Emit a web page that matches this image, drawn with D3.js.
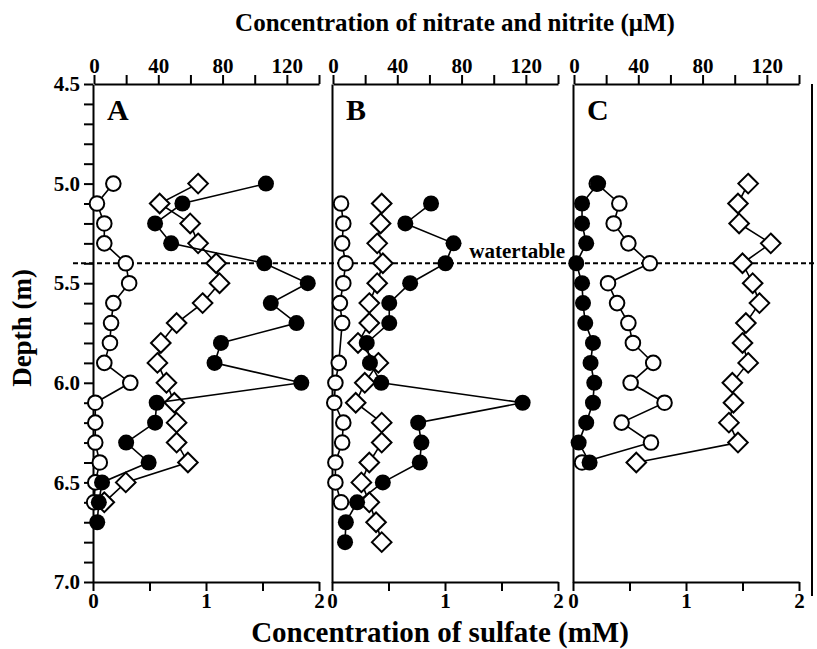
<!DOCTYPE html>
<html>
<head>
<meta charset="utf-8">
<style>
  body { margin: 0; background: #fff; }
  svg { display: block; }
  text { font-family: "Liberation Serif", "Times New Roman", serif; font-weight: bold; fill: #000; }
</style>
</head>
<body>
<div id="chart"></div>
<script src="https://cdnjs.cloudflare.com/ajax/libs/d3/7.8.5/d3.min.js"></script>
<script>
  // Depths (m) for each panel
  const depthA = [5.0, 5.1, 5.2, 5.3, 5.4, 5.5, 5.6, 5.7, 5.8, 5.9, 6.0, 6.1, 6.2, 6.3, 6.4, 6.5, 6.6, 6.7];
  const depthB = [5.1, 5.2, 5.3, 5.4, 5.5, 5.6, 5.7, 5.8, 5.9, 6.0, 6.1, 6.2, 6.3, 6.4, 6.5, 6.6, 6.7, 6.8];
  const depthC = [5.0, 5.1, 5.2, 5.3, 5.4, 5.5, 5.6, 5.7, 5.8, 5.9, 6.0, 6.1, 6.2, 6.3, 6.4];

  // filled circles: nitrate + nitrite (uM, top axis)
  const nitrateA = [107, 55, 38, 48, 106, 133, 110, 126, 79, 75, 129, 39, 38, 20, 34, 5, 3, 2];
  const nitrateB = [61, 45, 75, 70, 48, 35, 35, 21, 23, 30, 118, 53, 55, 54, 31, 15, 8, 7.5];
  const nitrateC = [15, 5, 5, 7.6, 1.4, 5, 5.6, 7, 11.8, 10.3, 12.6, 11.8, 7.6, 2.9, 9.7];

  // open circles (mM, bottom axis)
  const openA = [0.18, 0.035, 0.10, 0.10, 0.29, 0.32, 0.18, 0.16, 0.15, 0.10, 0.33, 0.02, 0.02, 0.02, 0.06, 0.02, 0.01, null];
  const openB = [0.08, 0.10, 0.09, 0.12, 0.10, 0.07, 0.09, null, 0.06, 0.03, 0.02, 0.10, 0.09, 0.03, 0.03, 0.08, null, null];
  const openC = [0.21, 0.41, 0.36, 0.49, 0.68, 0.31, 0.39, 0.49, 0.53, 0.71, 0.51, 0.81, 0.43, 0.69, 0.08];

  // open diamonds: sulfate (mM, bottom axis)
  const sulfateA = [0.93, 0.59, 0.86, 0.93, 1.09, 1.12, 0.97, 0.74, 0.60, 0.57, 0.65, 0.72, 0.74, 0.74, 0.84, 0.29, 0.10, null];
  const sulfateB = [0.44, 0.43, 0.40, 0.45, 0.40, 0.33, 0.33, 0.23, 0.41, 0.29, 0.21, 0.44, 0.44, 0.33, 0.26, 0.33, 0.39, 0.44];
  const sulfateC = [1.55, 1.46, 1.47, 1.75, 1.50, 1.59, 1.65, 1.53, 1.50, 1.55, 1.41, 1.42, 1.38, 1.46, 0.56];

  const panelNames = ["A", "B", "C"];
  const watertable = 5.4;

  const topTicks = [0, 20, 40, 60, 80, 100, 120, 140];
  const topLabels = [0, 40, 80, 120];
  const bottomTicks = [0, 0.5, 1, 1.5, 2];
  const bottomLabels = [0, 1, 2];
  const depthTicks = d3.range(45, 71).map(d => d / 10);

  const panels = [
    {name: panelNames[0], depth: depthA, nitrate: nitrateA, open: openA, sulfate: sulfateA},
    {name: panelNames[1], depth: depthB, nitrate: nitrateB, open: openB, sulfate: sulfateB},
    {name: panelNames[2], depth: depthC, nitrate: nitrateC, open: openC, sulfate: sulfateC}
  ];

  const width = 817, height = 649;
  const plotTop = 84, plotBottom = 582;
  const panelLeft = [93, 332, 573];
  const panelWidth = 226;

  const svg = d3.select("#chart").append("svg")
    .attr("width", width)
    .attr("height", height);

  const y = d3.scaleLinear().domain([4.5, 7.0]).range([plotTop, plotBottom]);

  // watertable
  svg.append("line")
    .attr("x1", 73).attr("x2", width)
    .attr("y1", y(watertable)).attr("y2", y(watertable))
    .attr("stroke", "#000").attr("stroke-width", 2)
    .attr("stroke-dasharray", "5,3");

  svg.append("text")
    .attr("x", 565).attr("y", y(watertable) - 5)
    .attr("text-anchor", "end")
    .attr("font-size", 21)
    .text("watertable");

  function styleAxis(g) {
    g.attr("font-size", 21);
    g.selectAll("path, line").attr("stroke", "#000").attr("stroke-width", 2);
    g.selectAll("text").attr("font-size", 21).attr("fill", "#000")
      .style("font-family", '"Liberation Serif", "Times New Roman", serif')
      .style("font-weight", "bold");
  }

  panels.forEach((p, i) => {
    const x0 = panelLeft[i];
    const xTop = d3.scaleLinear().domain([0, 140]).range([x0 + 1, x0 + panelWidth]);
    const xBot = d3.scaleLinear().domain([0, 2]).range([x0, x0 + panelWidth]);

    // left axis
    if (i === 0) {
      svg.append("g")
        .attr("transform", `translate(${x0},0)`)
        .call(d3.axisLeft(y).tickValues(depthTicks).tickSize(9).tickSizeOuter(0)
          .tickPadding(4)
          .tickFormat(d => Math.round(d * 10) % 5 === 0 ? d3.format(".1f")(d) : ""))
        .call(styleAxis);
    } else {
      svg.append("g")
        .attr("transform", `translate(${x0},0)`)
        .call(d3.axisLeft(y).tickValues([]).tickSizeOuter(0))
        .call(styleAxis);
    }

    // top axis
    svg.append("g")
      .attr("transform", `translate(0,${plotTop})`)
      .call(d3.axisTop(xTop).tickValues(topTicks).tickSize(9).tickSizeOuter(0)
        .tickPadding(2)
        .tickFormat(d => topLabels.includes(d) ? d : ""))
      .call(styleAxis);

    // bottom axis
    svg.append("g")
      .attr("transform", `translate(0,${plotBottom})`)
      .call(d3.axisBottom(xBot).tickValues(bottomTicks).tickSize(9).tickSizeOuter(0)
        .tickPadding(2)
        .tickFormat(d => bottomLabels.includes(d) ? d : ""))
      .call(styleAxis);

    // panel letter
    svg.append("text")
      .attr("x", x0 + 14).attr("y", 120)
      .attr("font-size", 30)
      .text(p.name);

    const rows = p.depth.map((d, k) => ({
      depth: d, nitrate: p.nitrate[k], open: p.open[k], sulfate: p.sulfate[k]
    }));

    const g = svg.append("g");

    // open circles
    const openRows = rows.filter(r => r.open != null);
    g.append("path")
      .datum(openRows)
      .attr("fill", "none").attr("stroke", "#000").attr("stroke-width", 1.6)
      .attr("d", d3.line().x(r => xBot(r.open)).y(r => y(r.depth)));
    g.selectAll(".open")
      .data(openRows)
      .join("circle")
      .attr("cx", r => xBot(r.open)).attr("cy", r => y(r.depth))
      .attr("r", 7.3)
      .attr("fill", "#fff").attr("stroke", "#000").attr("stroke-width", 2);

    // diamonds
    const sRows = rows.filter(r => r.sulfate != null);
    g.append("path")
      .datum(sRows)
      .attr("fill", "none").attr("stroke", "#000").attr("stroke-width", 1.6)
      .attr("d", d3.line().x(r => xBot(r.sulfate)).y(r => y(r.depth)));
    g.selectAll(".dia")
      .data(sRows)
      .join("path")
      .attr("transform", r => `translate(${xBot(r.sulfate)},${y(r.depth)})`)
      .attr("d", "M0,-9.8L9.8,0L0,9.8L-9.8,0Z")
      .attr("fill", "#fff").attr("stroke", "#000").attr("stroke-width", 2);

    // filled circles
    const nRows = rows.filter(r => r.nitrate != null);
    g.append("path")
      .datum(nRows)
      .attr("fill", "none").attr("stroke", "#000").attr("stroke-width", 1.6)
      .attr("d", d3.line().x(r => xTop(r.nitrate)).y(r => y(r.depth)));
    g.selectAll(".filled")
      .data(nRows)
      .join("circle")
      .attr("cx", r => xTop(r.nitrate)).attr("cy", r => y(r.depth))
      .attr("r", 8)
      .attr("fill", "#000");
  });

  // right frame line
  svg.append("line")
    .attr("x1", 812).attr("x2", 812)
    .attr("y1", plotTop).attr("y2", 596)
    .attr("stroke", "#000").attr("stroke-width", 2);

  // axis titles
  svg.append("text")
    .attr("x", 455).attr("y", 31)
    .attr("text-anchor", "middle")
    .attr("font-size", 25)
    .text("Concentration of nitrate and nitrite (\u03bcM)");

  svg.append("text")
    .attr("x", 440).attr("y", 642)
    .attr("text-anchor", "middle")
    .attr("font-size", 29)
    .text("Concentration of sulfate (mM)");

  svg.append("text")
    .attr("transform", "translate(31,328) rotate(-90)")
    .attr("text-anchor", "middle")
    .attr("font-size", 27)
    .text("Depth (m)");
</script>
</body>
</html>
